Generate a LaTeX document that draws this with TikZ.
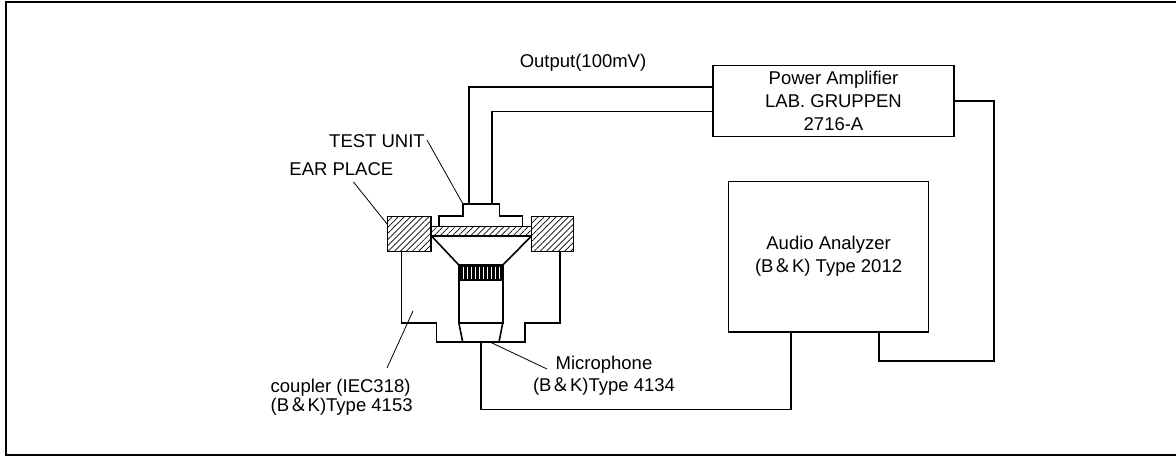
\documentclass[tikz,border=0pt]{standalone}
\usepackage{fontspec}
\setmainfont{Liberation Sans}
\newfontfamily\cjkfont{Noto Sans CJK JP}
\usetikzlibrary{patterns.meta}
\newcommand{\BK}{B{\cjkfont ＆}K}
\begin{document}
\begin{tikzpicture}[x=1pt,y=-1pt,
  wire/.style={line width=1.6pt,line cap=rect},
  part/.style={line width=1.6pt,line join=miter},
  hatchbox/.style={part,pattern={Lines[angle=45,distance=4.3pt,line width=0.7pt]}},
  devbox/.style={draw,line width=1.6pt,rectangle,inner sep=0pt,align=center,
     font=\fontsize{18.5}{23}\selectfont},
  lbl/.style={inner sep=0pt,font=\fontsize{18.5}{22}\selectfont},
  leader/.style={line width=0.8pt}]
\useasboundingbox (0,0) rectangle (1176,457);
\begin{scope}
\clip (0,0) rectangle (1176,457);
\draw[line width=2pt] (5.5,2.5) rectangle (1190,455);
\end{scope}

% devices
\node[devbox,minimum width=241pt,minimum height=71pt] (amp) at (833.5,101.2)
  {Power Amplifier\\LAB. GRUPPEN\\2716-A};
\node[devbox,minimum width=200pt,minimum height=150pt] (ana) at (828.6,256.7)
  {Audio Analyzer\\(\BK) Type 2012};

% test unit + coupler
\draw[hatchbox] (387.3,216.7) rectangle (430.7,251.7);
\draw[hatchbox] (531.3,216.7) rectangle (573.3,251.7);
\draw[hatchbox] (430.7,226.7) rectangle (531.3,236);
\draw[part] (439,226.7) -- (439,216) -- (462.7,216) -- (462.7,204.3)
  -- (499.3,204.3) -- (499.3,216) -- (522.3,216) -- (522.3,226.7);
\coordinate (tuA) at (469,204.3);
\coordinate (tuB) at (492,204.3);
% cone
\draw[part] (431.5,236) -- (458.8,265) -- (502.8,265) -- (531.5,236);
% grille
\fill (458.8,265) rectangle (502.8,280);
\foreach \gx in {463,467,...,499} \draw[white,line width=0.8pt] (\gx,267) -- (\gx,279);
\draw[part] (458.8,265) rectangle (502.8,280);
% microphone body
\draw[part] (458.8,280) -- (458.8,322.7) -- (502.8,322.7) -- (502.8,280);
\draw[part] (458.8,322.7) -- (462.7,342) (502.8,322.7) -- (499,342);
% coupler body
\draw[part] (401.5,251.7) -- (401.5,322.7) -- (436.5,322.7) -- (436.5,342)
  -- (525,342) -- (525,322.7) -- (560,322.7) -- (560,251.7);
\coordinate (micB) at (481,342);

% cables
\draw[wire] (tuA) |- (amp.west |- 0,87.3);
\draw[wire] (tuB) |- (amp.west |- 0,111.7);
\coordinate (c1) at (994,101);
\coordinate (c2) at (994,360.7);
\draw[wire] (amp.east |- c1) -- (c1) -- (c2) -| (ana.south -| 879,0);
\draw[wire] (micB) |- (791,409.3) -- (ana.south -| 791,0);

% labels
\node[lbl] (out) at (583,63) {Output(100mV)};
\node[lbl,anchor=east] (tu) at (425,141) {TEST UNIT};
\node[lbl,anchor=east] (ep) at (393.5,169.5) {EAR PLACE};
\node[lbl,align=left,anchor=north west,font=\fontsize{18.5}{19}\selectfont] (cp) at (270.5,379)
  {coupler (IEC318)\\(\BK)Type 4153};
\node[lbl,align=center,font=\fontsize{18.5}{22}\selectfont] (mic) at (604,376)
  {Microphone\\(\BK)Type 4134};
\coordinate (tuL) at (427,140);
\coordinate (epL) at (353.5,182);
\coordinate (cpL) at (387,368);
\coordinate (micL) at (547,369);
\draw[leader] (tuL) -- (462.7,203.5);
\draw[leader] (epL) -- (387.3,224.3);
\draw[leader] (cpL) -- (413,311);
\draw[leader] (micL) -- (491,342.5);
\end{tikzpicture}
\end{document}
